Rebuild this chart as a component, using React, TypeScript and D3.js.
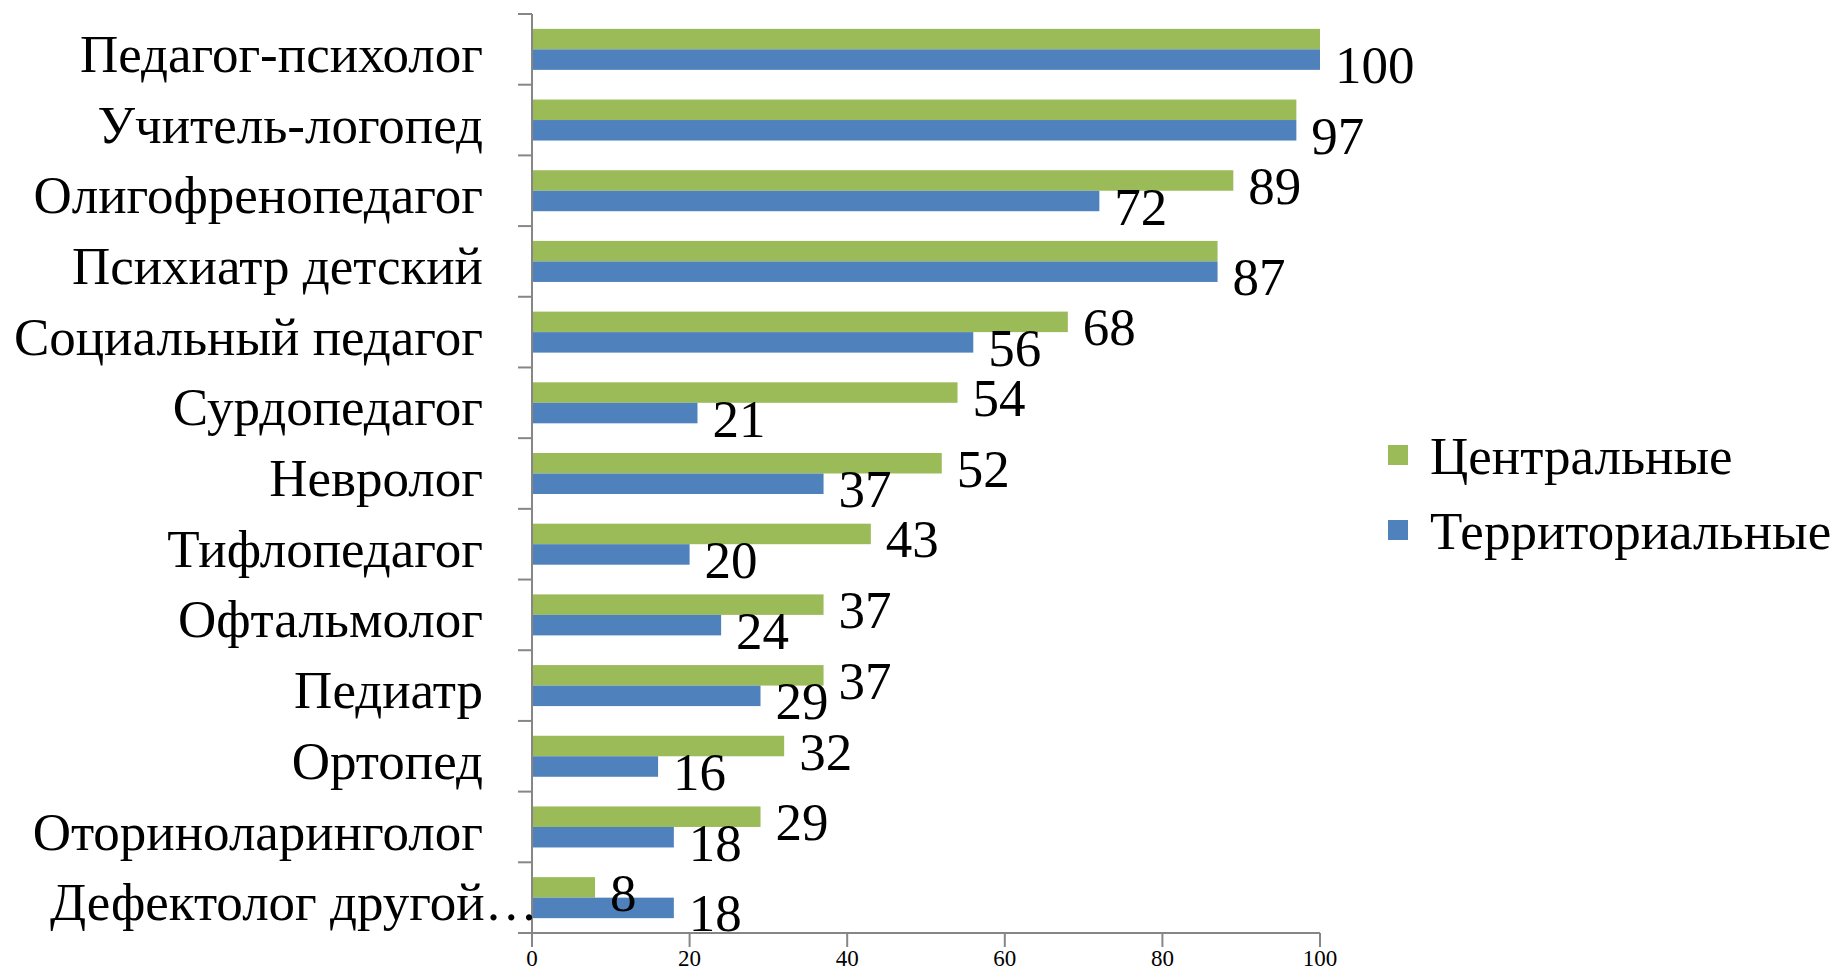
import React from 'react';
import * as d3 from 'd3';

const categories = [
  'Педагог-психолог',
  'Учитель-логопед',
  'Олигофренопедагог',
  'Психиатр детский',
  'Социальный педагог',
  'Сурдопедагог',
  'Невролог',
  'Тифлопедагог',
  'Офтальмолог',
  'Педиатр',
  'Ортопед',
  'Оториноларинголог',
  'Дефектолог другой…',
];
const central = [100, 97, 89, 87, 68, 54, 52, 43, 37, 37, 32, 29, 8];
const territorial = [100, 97, 72, 87, 56, 21, 37, 20, 24, 29, 16, 18, 18];
const xTicks = [0, 20, 40, 60, 80, 100];
const seriesNames = ['Центральные', 'Территориальные'];
const colors = ['#9BBB59', '#4F81BD'];

const W = 1840;
const H = 975;
const left = 532;
const right = 1320;
const top = 14;
const bottom = 933;
const font = '"Liberation Serif", "Times New Roman", serif';

const App = () => {
  const x = d3.scaleLinear().domain([0, 100]).range([left, right]);
  const y = d3.scaleBand<string>().domain(categories).range([top, bottom]).paddingInner(0.42).paddingOuter(0.21);
  const bandStep = y.step();
  const barH = y.bandwidth() / 2;
  const labelSize = 53;
  const gridColor = '#868686';

  return (
    <svg width={W} height={H} style={{ position: 'absolute', left: 0, top: 0, background: '#fff' }}
      fontFamily={font}>
      {/* bars */}
      {categories.map((c, i) => {
        const y0 = y(c)!;
        return (
          <g key={c}>
            <rect x={x(0)} y={y0} width={x(central[i]) - x(0)} height={barH} fill={colors[0]} />
            <rect x={x(0)} y={y0 + barH} width={x(territorial[i]) - x(0)} height={barH} fill={colors[1]} />
          </g>
        );
      })}

      {/* y axis */}
      <line x1={left} x2={left} y1={top} y2={bottom} stroke={gridColor} strokeWidth={2} />
      {d3.range(categories.length + 1).map(i => (
        <line key={i} x1={left - 14} x2={left} y1={top + i * bandStep} y2={top + i * bandStep}
          stroke={gridColor} strokeWidth={2} />
      ))}

      {/* x axis */}
      <line x1={left} x2={right} y1={bottom} y2={bottom} stroke={gridColor} strokeWidth={2} />
      {xTicks.map(t => (
        <g key={t}>
          <line x1={x(t)} x2={x(t)} y1={bottom} y2={bottom + 14} stroke={gridColor} strokeWidth={2} />
          <text x={x(t)} y={966} textAnchor="middle" fontSize={23}>{t}</text>
        </g>
      ))}

      {/* category labels */}
      {categories.map(c => {
        const cy = y(c)! + y.bandwidth() / 2 + 4;
        const truncated = c.endsWith('…');
        return (
          <text key={c} x={truncated ? 50 : 483} y={cy} dy="0.35em" textAnchor={truncated ? 'start' : 'end'}
            fontSize={labelSize}>{c}</text>
        );
      })}

      {/* value labels */}
      {categories.map((c, i) => {
        const y0 = y(c)!;
        return (
          <g key={c}>
            {central[i] !== territorial[i] && (
              <text x={x(central[i]) + 15} y={y0 + barH / 2 + 5} dy="0.35em" fontSize={labelSize}>{central[i]}</text>
            )}
            <text x={x(territorial[i]) + 15} y={y0 + barH * 1.5 + 5} dy="0.35em" fontSize={labelSize}>{territorial[i]}</text>
          </g>
        );
      })}

      {/* legend */}
      {seriesNames.map((s, i) => {
        const ly = 455 + i * 75;
        return (
          <g key={s}>
            <rect x={1388} y={ly - 10} width={20} height={20} fill={colors[i]} />
            <text x={1430} y={ly} dy="0.35em" fontSize={labelSize}>{s}</text>
          </g>
        );
      })}
    </svg>
  );
};

export default App;
